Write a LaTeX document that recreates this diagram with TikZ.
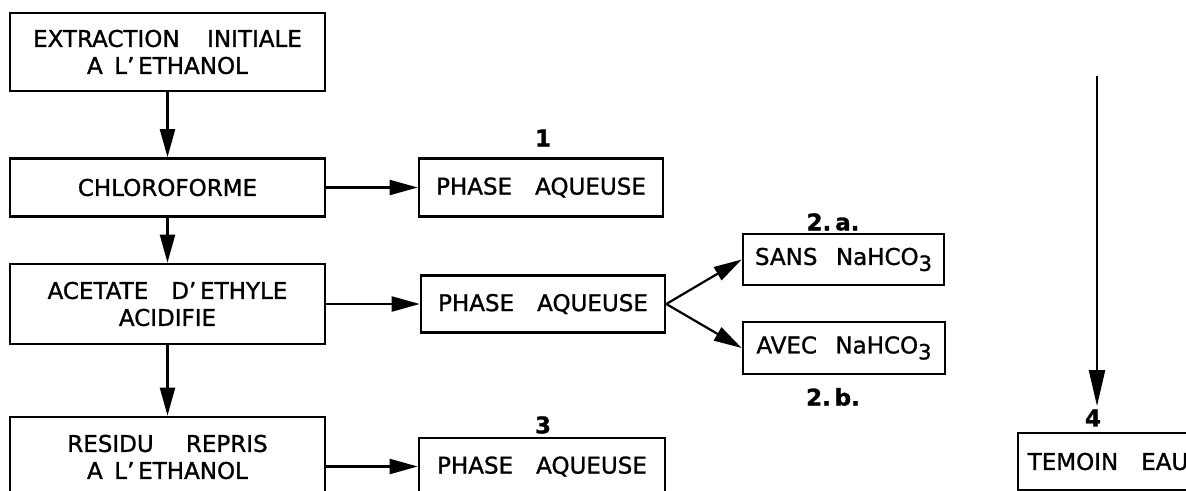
\documentclass[tikz,border=0pt]{standalone}
\usepackage{fontspec}
\setmainfont{DejaVu Sans}[FakeBold=1.2]
\usetikzlibrary{arrows.meta}
\newcommand{\bicarb}{NaHCO\raisebox{-6pt}{\fontsize{21}{21}\selectfont 3}}

\begin{document}
\begin{tikzpicture}[x = 1pt, y = -1pt,
	box/.style = {draw, line width = 2.6pt, align = center, inner sep = 0pt, font = \fontsize{23}{27}\selectfont},
	lab/.style = {font = \fontsize{23}{23}\selectfont\bfseries},
	arr/.style = {line width = 2.2pt, -{Triangle[length = 28pt, width = 15pt]}}]
	\clip (0,0) rectangle (1186,490);
	% left column
	\node[box, minimum width = 315pt, minimum height = 78pt] (extr) at (167.5,52) {EXTRACTION\hspace{1.2em}INITIALE\\A\enspace L'\,ETHANOL};
	\node[box, minimum width = 315pt, minimum height = 58pt] (chlo) at (167.5,187.5) {CHLOROFORME};
	\node[box, minimum width = 315pt, minimum height = 80pt] (acet) at (167.5,304) {ACETATE\quad D'\,ETHYLE\\ACIDIFIE};
	\node[box, minimum width = 315pt, minimum height = 80pt] (resi) at (167.5,457) {RESIDU\hspace{1.4em}REPRIS\\A\enspace L'\,ETHANOL};
	\draw[arr] (extr) -- (chlo);
	\draw[arr] (chlo) -- (acet);
	\draw[arr] (acet) -- (resi);
	% aqueous phases
	\node[box, minimum width = 244pt, minimum height = 58pt] (ph1) at (541,187.5) {PHASE\quad AQUEUSE};
	\node[box, minimum width = 244pt, minimum height = 57pt] (ph2) at (543,304) {PHASE\quad AQUEUSE};
	\node[box, minimum width = 246pt, minimum height = 57pt] (ph3) at (542,466.5) {PHASE\quad AQUEUSE};
	\node[lab] (lab1) at (543,138) {1};
	\node[lab] (lab3) at (543,425) {3};
	\draw[arr] (chlo) -- (ph1);
	\draw[arr] (acet) -- (ph2);
	\draw[arr] (resi.east |- ph3) -- (ph3.west);
	% bicarbonate
	\node[box, minimum width = 201pt, minimum height = 51pt] (sans) at (843.5,259.5) {SANS\hspace{0.8em}\bicarb};
	\node[box, minimum width = 202pt, minimum height = 52pt] (avec) at (844,348) {AVEC\hspace{0.8em}\bicarb};
	\node[lab] (lab2a) at (833,222) {2.\,a.};
	\node[lab] (lab2b) at (833,397) {2.\,b.};
	\draw[arr] (ph2.east) -- (sans.west);
	\draw[arr] (ph2.east) -- (avec.west);
	% water control
	\coordinate (top4) at (1097,76);
	\node[lab] (lab4) at (1093,418) {4};
	\node[box, minimum width = 180pt, minimum height = 57pt] (temo) at (1108,461.5) {TEMOIN\quad EAU};
	\draw[arr, -{Triangle[length = 36pt, width = 16pt]}] (top4) -- (top4 |- lab4.north);
\end{tikzpicture}
\end{document}
